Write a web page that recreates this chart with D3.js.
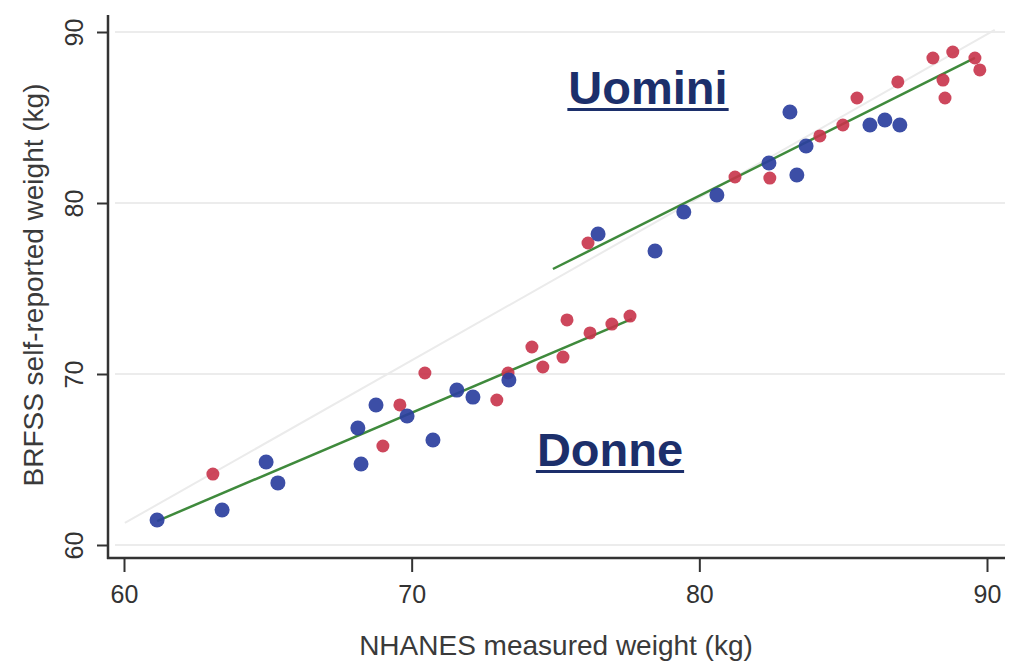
<!DOCTYPE html>
<html>
<head>
<meta charset="utf-8">
<script src="https://cdn.jsdelivr.net/npm/d3@7"></script>
<style>
  body { margin: 0; background: #ffffff; }
  svg { display: block; font-family: "Liberation Sans", Arial, sans-serif; }
</style>
</head>
<body>
<div id="chart"></div>
<script>

// blue group (NHANES measured vs BRFSS reported)
var blueX = [61.15, 63.41, 64.94, 65.35, 68.13, 68.24, 68.76, 69.84, 70.74, 71.57, 72.13, 73.38,
  76.48, 78.46, 79.46, 80.61, 82.42, 83.15, 83.39, 83.71, 85.93, 86.45, 86.97];
var blueY = [61.46, 62.05, 64.85, 63.63, 66.84, 64.74, 68.19, 67.54, 66.14, 69.06, 68.65, 69.65,
  78.19, 77.19, 79.47, 80.47, 82.34, 85.32, 81.64, 83.33, 84.56, 84.85, 84.56];

// red group
var redX = [63.09, 69.00, 69.59, 70.46, 72.96, 73.35, 74.18, 74.56, 75.26, 75.40, 76.20, 76.96, 77.59,
  76.13, 81.24, 82.45, 84.19, 84.99, 85.48, 86.90, 88.12, 88.81, 88.47, 88.54, 89.58, 89.75];
var redY = [64.15, 65.79, 68.19, 70.06, 68.48, 70.06, 71.58, 70.41, 70.99, 73.16, 72.40, 72.92, 73.39,
  77.66, 81.52, 81.46, 83.92, 84.56, 86.14, 87.08, 88.48, 88.83, 87.19, 86.14, 88.48, 87.78];

// fitted lines
var womenFitX = [61.15, 77.66];
var womenFitY = [61.40, 73.22];
var menFitX = [74.91, 89.58];
var menFitY = [76.14, 88.48];

// faint reference line
var refX = [60.03, 90.27];
var refY = [61.29, 90.12];

var xTicks = [60, 70, 80, 90];
var yTicks = [60, 70, 80, 90];

// space for the chart
var svgWidth = 1009;
var svgHeight = 663;

var svg = d3.select("#chart")
  .append("svg")
  .attr("width", svgWidth)
  .attr("height", svgHeight);

// scales
var xScale = d3.scaleLinear()
  .domain([60, 90])
  .range([124, 987]);

var yScale = d3.scaleLinear()
  .domain([60, 90])
  .range([545, 32]);

var axisX = 108;   // position of the y axis line
var axisY = 558;   // position of the x axis line

// horizontal gridlines
svg.append("g")
  .selectAll("line")
  .data(yTicks)
  .enter()
  .append("line")
  .attr("x1", 115)
  .attr("x2", 1005)
  .attr("y1", d => yScale(d))
  .attr("y2", d => yScale(d))
  .attr("stroke", "#ececec")
  .attr("stroke-width", 2);

var line = d3.line()
  .x(d => xScale(d[0]))
  .y(d => yScale(d[1]));

// faint reference line
svg.append("path")
  .datum(d3.zip(refX, refY))
  .attr("d", line)
  .attr("fill", "none")
  .attr("stroke", "#ebebeb")
  .attr("stroke-width", 2);

// fitted lines
[[womenFitX, womenFitY], [menFitX, menFitY]].forEach(function (fit) {
  svg.append("path")
    .datum(d3.zip(fit[0], fit[1]))
    .attr("d", line)
    .attr("fill", "none")
    .attr("stroke", "#3f8a3c")
    .attr("stroke-width", 2.5);
});

// points
svg.append("g")
  .selectAll("circle")
  .data(d3.zip(redX, redY))
  .enter()
  .append("circle")
  .attr("cx", d => xScale(d[0]))
  .attr("cy", d => yScale(d[1]))
  .attr("r", 6.5)
  .attr("fill", "#c8334a")
  .attr("opacity", 0.9);

svg.append("g")
  .selectAll("circle")
  .data(d3.zip(blueX, blueY))
  .enter()
  .append("circle")
  .attr("cx", d => xScale(d[0]))
  .attr("cy", d => yScale(d[1]))
  .attr("r", 7.5)
  .attr("fill", "#2b3f9e")
  .attr("opacity", 0.92);

// x axis
var bottomAxis = d3.axisBottom(xScale)
  .tickValues(xTicks)
  .tickSize(14)
  .tickPadding(30);

var xAxis = svg.append("g")
  .attr("transform", `translate(0, ${axisY})`)
  .call(bottomAxis);

xAxis.select(".domain").remove();
xAxis.selectAll("line").attr("stroke", "#333").attr("stroke-width", 2);
xAxis.selectAll("text")
  .attr("y", 45)
  .attr("dy", 0)
  .attr("font-size", 25)
  .attr("font-family", "Liberation Sans, Arial, sans-serif")
  .attr("fill", "#333");

// y axis
var leftAxis = d3.axisLeft(yScale)
  .tickValues(yTicks)
  .tickSize(11);

var yAxis = svg.append("g")
  .attr("transform", `translate(${axisX}, 0)`)
  .call(leftAxis);

yAxis.select(".domain").remove();
yAxis.selectAll("line").attr("stroke", "#333").attr("stroke-width", 2);
yAxis.selectAll("text")
  .attr("x", 0)
  .attr("y", -25)
  .attr("dy", 0)
  .attr("text-anchor", "middle")
  .attr("transform", "rotate(-90)")
  .attr("font-size", 25)
  .attr("font-family", "Liberation Sans, Arial, sans-serif")
  .attr("fill", "#333");

// axis lines
svg.append("line")
  .attr("x1", axisX).attr("x2", axisX)
  .attr("y1", 15).attr("y2", axisY + 1)
  .attr("stroke", "#333")
  .attr("stroke-width", 2.5);

svg.append("line")
  .attr("x1", axisX - 1).attr("x2", 1005)
  .attr("y1", axisY).attr("y2", axisY)
  .attr("stroke", "#333")
  .attr("stroke-width", 2.5);

// axis titles
svg.append("text")
  .attr("x", 556)
  .attr("y", 655)
  .attr("text-anchor", "middle")
  .attr("font-size", 28)
  .attr("fill", "#3a3a3a")
  .text("NHANES measured weight (kg)");

svg.append("text")
  .attr("transform", "translate(43, 285) rotate(-90)")
  .attr("text-anchor", "middle")
  .attr("font-size", 28)
  .attr("fill", "#3a3a3a")
  .text("BRFSS self-reported weight (kg)");

// group labels, underlined
var labels = [
  { text: "Uomini", x: 648, y: 104 },
  { text: "Donne", x: 610, y: 466 }
];

labels.forEach(function (l) {
  var t = svg.append("text")
    .attr("x", l.x)
    .attr("y", l.y)
    .attr("text-anchor", "middle")
    .attr("font-size", 47)
    .attr("font-weight", "bold")
    .attr("fill", "#1c2f6b")
    .text(l.text);
  var w = t.node().getComputedTextLength();
  svg.append("rect")
    .attr("x", l.x - w / 2 - 1)
    .attr("y", l.y + 4)
    .attr("width", w + 2)
    .attr("height", 3)
    .attr("fill", "#1c2f6b");
});

</script>
</body>
</html>
